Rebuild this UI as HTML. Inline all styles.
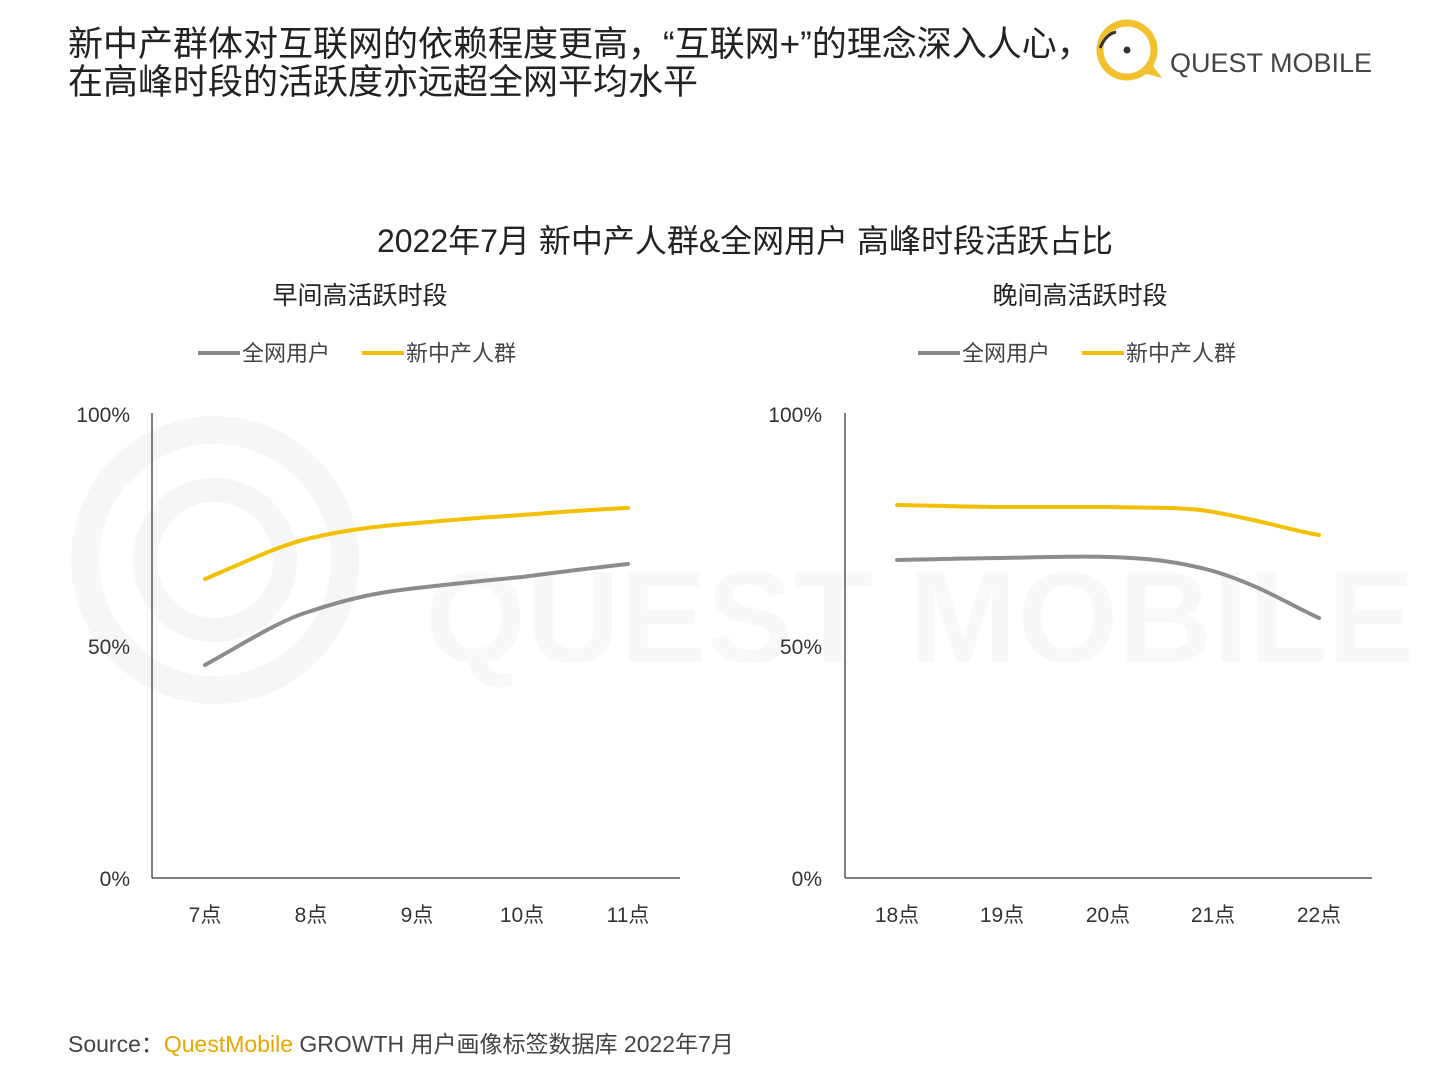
<!DOCTYPE html>
<html><head><meta charset="utf-8"><style>
html,body{margin:0;padding:0;background:#fff;}
body{width:1440px;height:1080px;overflow:hidden;font-family:"Liberation Sans","Noto Sans CJK SC",sans-serif;}
</style></head><body>
<svg width="1440" height="1080" xmlns="http://www.w3.org/2000/svg" font-family="'Liberation Sans','Noto Sans CJK SC',sans-serif">
<g opacity="0.03" fill="none" stroke="#000">
<circle cx="215" cy="560" r="130" stroke-width="28"/>
<circle cx="215" cy="560" r="70" stroke-width="24"/>
</g>
<text x="425" y="662" font-size="130" fill="#000" opacity="0.025" font-weight="bold">QUEST MOBILE</text>
<text x="68" y="56" font-size="35" fill="#222">新中产群体对互联网的依赖程度更高，“互联网+”的理念深入人心，</text>
<text x="68" y="94" font-size="35" fill="#222">在高峰时段的活跃度亦远超全网平均水平</text>
<circle cx="1127" cy="50" r="27" fill="none" stroke="#f2c12e" stroke-width="7"/>
<path d="M1140 72 L1162 78 L1150 62 Z" fill="#f2c12e"/>
<circle cx="1127" cy="50" r="3.5" fill="#333"/>
<path d="M1100 48 q6 -14 16 -16" stroke="#333" stroke-width="3" fill="none"/>
<text x="1170" y="72" font-size="27" fill="#444">QUEST MOBILE</text>
<text x="745" y="252" font-size="32" fill="#222" text-anchor="middle">2022年7月 新中产人群&amp;全网用户 高峰时段活跃占比</text>
<text x="360" y="304" font-size="25" fill="#222" text-anchor="middle">早间高活跃时段</text>
<text x="1080" y="304" font-size="25" fill="#222" text-anchor="middle">晚间高活跃时段</text>
<g font-size="22" fill="#444">
<line x1="198" y1="353" x2="240" y2="353" stroke="#888" stroke-width="4"/><text x="242" y="361">全网用户</text>
<line x1="362" y1="353" x2="404" y2="353" stroke="#f2c000" stroke-width="4"/><text x="406" y="361">新中产人群</text>
<line x1="918" y1="353" x2="960" y2="353" stroke="#888" stroke-width="4"/><text x="962" y="361">全网用户</text>
<line x1="1082" y1="353" x2="1124" y2="353" stroke="#f2c000" stroke-width="4"/><text x="1126" y="361">新中产人群</text>
</g>
<g stroke="#555" stroke-width="1.5">
<line x1="152" y1="413" x2="152" y2="878"/><line x1="152" y1="878" x2="680" y2="878"/>
<line x1="845" y1="413" x2="845" y2="878"/><line x1="845" y1="878" x2="1372" y2="878"/>
</g>
<g font-size="21" fill="#333" text-anchor="end">
<text x="130" y="422">100%</text><text x="130" y="654">50%</text><text x="130" y="886">0%</text>
<text x="822" y="422">100%</text><text x="822" y="654">50%</text><text x="822" y="886">0%</text>
</g>
<g font-size="21" fill="#333" text-anchor="middle">
<text x="205" y="922">7点</text><text x="311" y="922">8点</text><text x="417" y="922">9点</text><text x="522" y="922">10点</text><text x="628" y="922">11点</text>
<text x="897" y="922">18点</text><text x="1002" y="922">19点</text><text x="1108" y="922">20点</text><text x="1213" y="922">21点</text><text x="1319" y="922">22点</text>
</g>
<g fill="none" stroke-width="4" stroke-linecap="round">
<path d="M205 665 C250 640 280 620 311 611 C350 598 380 592 417 588 C460 583 490 580 522 577 C560 572 600 567 628 564" stroke="#8c8c8c"/>
<path d="M205 579 C250 560 280 545 311 538 C350 529 380 526 417 523 C460 519 490 517 522 515 C560 512 600 509 628 508" stroke="#f2c000"/>
<path d="M897 560 C950 559 980 558 1002 558 C1050 557 1080 556 1108 557 C1150 558 1180 562 1213 571 C1260 585 1290 605 1319 618" stroke="#8c8c8c"/>
<path d="M897 505 C950 506 980 507 1002 507 C1050 507 1080 507 1108 507 C1150 508 1190 507 1213 512 C1260 520 1290 530 1319 535" stroke="#f2c000"/>
</g>
<text x="68" y="1052" font-size="23" fill="#444">Source：<tspan fill="#e8a800">QuestMobile</tspan> GROWTH 用户画像标签数据库 2022年7月</text>
</svg>
</body></html>
